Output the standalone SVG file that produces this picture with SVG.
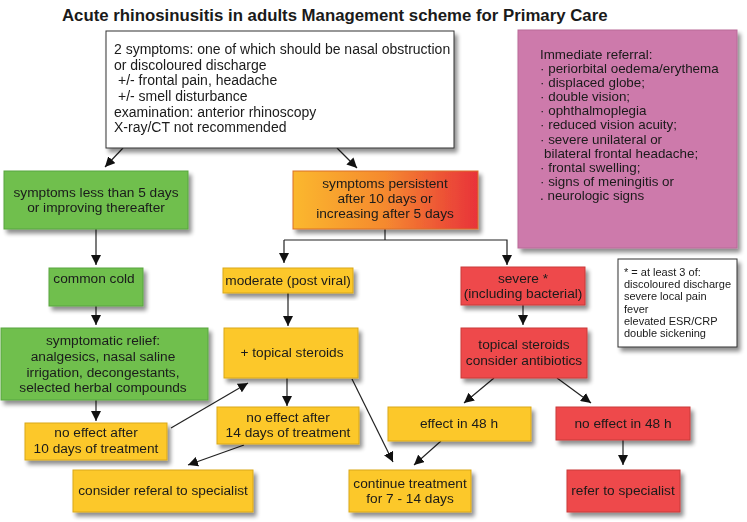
<svg xmlns="http://www.w3.org/2000/svg" width="747" height="522" viewBox="0 0 747 522">
<defs>
<filter id="sh" x="-10%" y="-10%" width="130%" height="140%">
<feGaussianBlur in="SourceAlpha" stdDeviation="2"/>
<feOffset dx="3" dy="4" result="b"/>
<feComponentTransfer><feFuncA type="linear" slope="0.45"/></feComponentTransfer>
<feMerge><feMergeNode/><feMergeNode in="SourceGraphic"/></feMerge>
</filter>
<linearGradient id="og" x1="0" y1="0" x2="1" y2="0">
<stop offset="0" stop-color="#fbb82f"/>
<stop offset="0.5" stop-color="#f5892f"/>
<stop offset="1" stop-color="#e8323a"/>
</linearGradient>
<marker id="ah" viewBox="0 0 10 10" refX="10" refY="5" markerWidth="10" markerHeight="10" markerUnits="userSpaceOnUse" orient="auto">
<path d="M0,0 L10,5 L0,10 z" fill="#111"/>
</marker>
</defs>
<style>
text{font-family:"Liberation Sans",Arial,sans-serif;fill:#1a1a1a}
.t{font-size:13.7px}
.tp{font-size:13.4px}
.tb{font-size:14px}
.c{text-anchor:middle}
.w{fill:#fff;stroke:#333;stroke-width:1}
.g{fill:#6fbf4e;stroke:#5aa53e;stroke-width:1}
.y{fill:#fcc82a;stroke:#d9a71a;stroke-width:1}
.r{fill:#ee4a4b;stroke:#c93a3a;stroke-width:1}
.p{fill:#cd7aab;stroke:#b96a98;stroke-width:1}
.o{fill:url(#og);stroke:#d9702a;stroke-width:1}
.ln{stroke:#222;stroke-width:1.2;fill:none}
.ar{stroke:#222;stroke-width:1.2;fill:none;marker-end:url(#ah)}
</style>
<rect width="747" height="522" fill="#fff"/>
<text x="62" y="21" style="font-size:16.8px;font-weight:bold">Acute rhinosinusitis in adults Management scheme for Primary Care</text>

<g id="connectors">
<line class="ar" x1="123" y1="148" x2="105" y2="167"/>
<line class="ar" x1="337" y1="148" x2="357" y2="168"/>
<line class="ar" x1="96" y1="229" x2="96" y2="265"/>
<line class="ar" x1="96" y1="306" x2="96" y2="325"/>
<line class="ar" x1="96" y1="400" x2="96" y2="421"/>
<polyline class="ln" points="385,229 385,240"/>
<polyline class="ar" points="284,240 507,240 507,265"/>
<line class="ar" x1="284" y1="240" x2="284" y2="263"/>
<line class="ar" x1="288" y1="293" x2="288" y2="326"/>
<line class="ar" x1="287" y1="370" x2="287" y2="406"/>
<line class="ar" x1="171" y1="428" x2="248" y2="383"/>
<line class="ar" x1="244" y1="445" x2="188" y2="465"/>
<line class="ar" x1="352" y1="379" x2="393" y2="462"/>
<line class="ar" x1="441" y1="441" x2="414" y2="465"/>
<line class="ar" x1="523" y1="305" x2="523" y2="325"/>
<line class="ar" x1="494" y1="378" x2="464" y2="403"/>
<line class="ar" x1="557" y1="378" x2="591" y2="403"/>
<line class="ar" x1="623" y1="440" x2="623" y2="465"/>
</g>

<g id="n-top" filter="url(#sh)">
<rect class="w" x="106" y="31" width="348" height="117"/>
<text class="tb" x="114" y="54">2 symptoms: one of which should be nasal obstruction</text>
<text class="tb" x="114" y="70">or discoloured discharge</text>
<text class="tb" x="118" y="85">+/- frontal pain, headache</text>
<text class="tb" x="118" y="101">+/- smell disturbance</text>
<text class="tb" x="114" y="117">examination: anterior rhinoscopy</text>
<text class="tb" x="114" y="132">X-ray/CT not recommended</text>
</g>

<g id="n-referral" filter="url(#sh)">
<rect class="p" x="518" y="30" width="219" height="218"/>
<text class="tp" x="540" y="59">Immediate referral:</text>
<text class="tp" x="540" y="73">· periorbital oedema/erythema</text>
<text class="tp" x="540" y="87">· displaced globe;</text>
<text class="tp" x="540" y="101">· double vision;</text>
<text class="tp" x="540" y="115">· ophthalmoplegia</text>
<text class="tp" x="540" y="129">· reduced vision acuity;</text>
<text class="tp" x="540" y="144">· severe unilateral or</text>
<text class="tp" x="544" y="158">bilateral frontal headache;</text>
<text class="tp" x="540" y="172">· frontal swelling;</text>
<text class="tp" x="540" y="186">· signs of meningitis or</text>
<text class="tp" x="540" y="200">. neurologic signs</text>
</g>

<g id="n-note" filter="url(#sh)">
<rect class="w" x="618" y="259" width="119" height="88"/>
<g style="font-size:11px">
<text x="624" y="276">* = at least 3 of:</text>
<text x="624" y="288">discoloured discharge</text>
<text x="624" y="300">severe local pain</text>
<text x="624" y="313">fever</text>
<text x="624" y="325">elevated ESR/CRP</text>
<text x="624" y="337">double sickening</text>
</g>
</g>

<g id="n-less5" filter="url(#sh)">
<rect class="g" x="4" y="171" width="184" height="58"/>
<text class="t c" x="96" y="197">symptoms less than 5 days</text>
<text class="t c" x="96" y="212">or improving thereafter</text>
</g>

<g id="n-persist" filter="url(#sh)">
<rect class="o" x="293" y="171" width="185" height="58"/>
<text class="t c" x="385" y="188">symptoms persistent</text>
<text class="t c" x="385" y="203">after 10 days or</text>
<text class="t c" x="385" y="218">increasing after 5 days</text>
</g>

<g id="n-cold" filter="url(#sh)">
<rect class="g" x="49" y="268" width="94" height="38"/>
<text class="t c" x="94" y="283">common cold</text>
</g>

<g id="n-relief" filter="url(#sh)">
<rect class="g" x="1" y="328" width="207" height="72"/>
<text class="t c" x="103" y="345">symptomatic relief:</text>
<text class="t c" x="103" y="361">analgesics,  nasal saline</text>
<text class="t c" x="103" y="377">irrigation, decongestants,</text>
<text class="t c" x="103" y="392">selected herbal compounds</text>
</g>

<g id="n-noeff10" filter="url(#sh)">
<rect class="y" x="25" y="423" width="142" height="37"/>
<text class="t c" x="96" y="437">no effect after</text>
<text class="t c" x="96" y="453">10 days of treatment</text>
</g>

<g id="n-consider" filter="url(#sh)">
<rect class="y" x="73" y="470" width="180" height="42"/>
<text class="t c" x="163" y="495">consider referal to specialist</text>
</g>

<g id="n-moderate" filter="url(#sh)">
<rect class="y" x="223" y="268" width="130" height="25"/>
<text class="t c" x="288" y="285">moderate (post viral)</text>
</g>

<g id="n-topical" filter="url(#sh)">
<rect class="y" x="224" y="328" width="134" height="50"/>
<text class="t c" x="292" y="357">+ topical steroids</text>
</g>

<g id="n-noeff14" filter="url(#sh)">
<rect class="y" x="217" y="407" width="142" height="37"/>
<text class="t c" x="288" y="422">no effect after</text>
<text class="t c" x="288" y="437">14 days of treatment</text>
</g>

<g id="n-continue" filter="url(#sh)">
<rect class="y" x="349" y="470" width="122" height="42"/>
<text class="t c" x="410" y="488">continue treatment</text>
<text class="t c" x="410" y="503">for 7 - 14 days</text>
</g>

<g id="n-severe" filter="url(#sh)">
<rect class="r" x="461" y="267" width="124" height="38"/>
<text class="t c" x="523" y="283">severe *</text>
<text class="t c" x="523" y="298">(including bacterial)</text>
</g>

<g id="n-antib" filter="url(#sh)">
<rect class="r" x="461" y="328" width="126" height="50"/>
<text class="t c" x="524" y="349">topical steroids</text>
<text class="t c" x="524" y="365">consider antibiotics</text>
</g>

<g id="n-eff48" filter="url(#sh)">
<rect class="y" x="388" y="407" width="143" height="34"/>
<text class="t c" x="459" y="428">effect in 48 h</text>
</g>

<g id="n-noeff48" filter="url(#sh)">
<rect class="r" x="556" y="407" width="134" height="33"/>
<text class="t c" x="623" y="428">no effect in 48 h</text>
</g>

<g id="n-refer" filter="url(#sh)">
<rect class="r" x="567" y="470" width="113" height="42"/>
<text class="t c" x="623" y="495">refer to specialist</text>
</g>
</svg>
